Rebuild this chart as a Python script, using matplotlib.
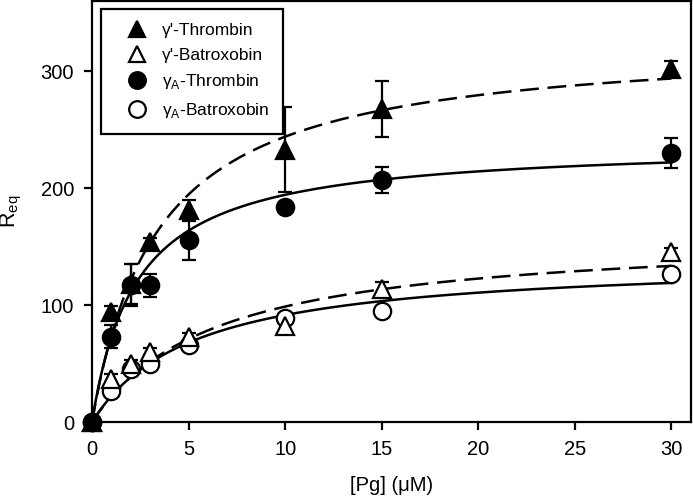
import numpy as np
import matplotlib
matplotlib.use("Agg")
import matplotlib.pyplot as plt
from matplotlib.lines import Line2D

# ── Data ──────────────────────────────────────────────────────────────────────
PG = [0, 1, 2, 3, 5, 10, 15, 30]   # [Pg] (uM)

gp_thr     = [0, 94, 118, 154, 181, 233, 268, 302]
gp_thr_err = [0, 5, 17, 3, 9, 36, 24, 7]
ga_thr     = [0, 73, 117, 117, 156, 184, 207, 230]
ga_thr_err = [0, 10, 18, 10, 17, 0, 11, 13]
gp_bat     = [0, 37, 50, 60, 73, 82, 114, 145]
gp_bat_err = [0, 4, 3, 3, 3, 7, 6, 4]
ga_bat     = [0, 27, 45, 50, 66, 89, 95, 127]
ga_bat_err = [0, 5, 3, 3, 3, 3, 4, 4]

# hyperbolic fits  Req = Bmax*[Pg]/(Kd+[Pg])
FIT_BMAX = [327, 239, 162, 140]
FIT_KD   = [3.4, 2.3, 6.4, 5.3]

LABELS = ["γ'-Thrombin", "γ'-Batroxobin",
          r"γ$_\mathregular{A}$-Thrombin", r"γ$_\mathregular{A}$-Batroxobin"]

# ── Style ─────────────────────────────────────────────────────────────────────
plt.rcParams.update({
    "font.family": ["Liberation Sans", "DejaVu Sans"],
    "font.size": 14,
    "axes.linewidth": 1.6,
    "xtick.major.width": 1.6,
    "ytick.major.width": 1.6,
    "xtick.major.size": 6,
    "ytick.major.size": 6,
})

fig = plt.figure(figsize=(6.93, 4.96), dpi=100)
ax = fig.add_axes([0.1328, 0.149, 0.864, 0.849])

xf = np.linspace(0, 30, 300)
DASH = (0, (7.5, 3.5))
fit_style = [DASH, "-", DASH, "-"]
for i in range(4):
    ax.plot(xf, FIT_BMAX[i] * xf / (FIT_KD[i] + xf), color="black",
            lw=1.8, linestyle=fit_style[i], zorder=2)

series = [
    (ga_bat, ga_bat_err, "o", "white"),
    (gp_bat, gp_bat_err, "^", "white"),
    (ga_thr, ga_thr_err, "o", "black"),
    (gp_thr, gp_thr_err, "^", "black"),
]
for ys, es, mk, fc in series:
    ax.errorbar(PG, ys, yerr=es, fmt=mk, ms=12.5, mfc=fc, mec="black",
                mew=1.6, ecolor="black", elinewidth=1.6, capsize=5,
                capthick=1.6, zorder=3, clip_on=False)

ax.set_xlim(0, 31)
ax.set_ylim(0, 360)
ax.set_xticks([0, 5, 10, 15, 20, 25, 30])
ax.set_yticks([0, 100, 200, 300])
ax.tick_params(direction="out", labelsize=14.5, pad=7)
ax.set_xlabel("[Pg] (μM)", fontsize=14.5, labelpad=12)
ax.set_ylabel(r"R$_\mathregular{eq}$", fontsize=15.5, labelpad=12)

handles = [
    Line2D([0], [0], marker="^", color="none", mfc="black", mec="black", ms=12, mew=1.6),
    Line2D([0], [0], marker="^", color="none", mfc="white", mec="black", ms=12, mew=1.6),
    Line2D([0], [0], marker="o", color="none", mfc="black", mec="black", ms=12, mew=1.6),
    Line2D([0], [0], marker="o", color="none", mfc="white", mec="black", ms=12, mew=1.6),
]
leg = ax.legend(handles, LABELS, loc="upper left", bbox_to_anchor=(0.015, 0.981),
                borderaxespad=0, fontsize=12.5, frameon=True, fancybox=False,
                edgecolor="black", framealpha=1, handletextpad=0.2,
                labelspacing=0.55, borderpad=0.8, handlelength=2.5)
leg.get_frame().set_linewidth(1.6)

fig.savefig("out.png", dpi=100, facecolor="white")
